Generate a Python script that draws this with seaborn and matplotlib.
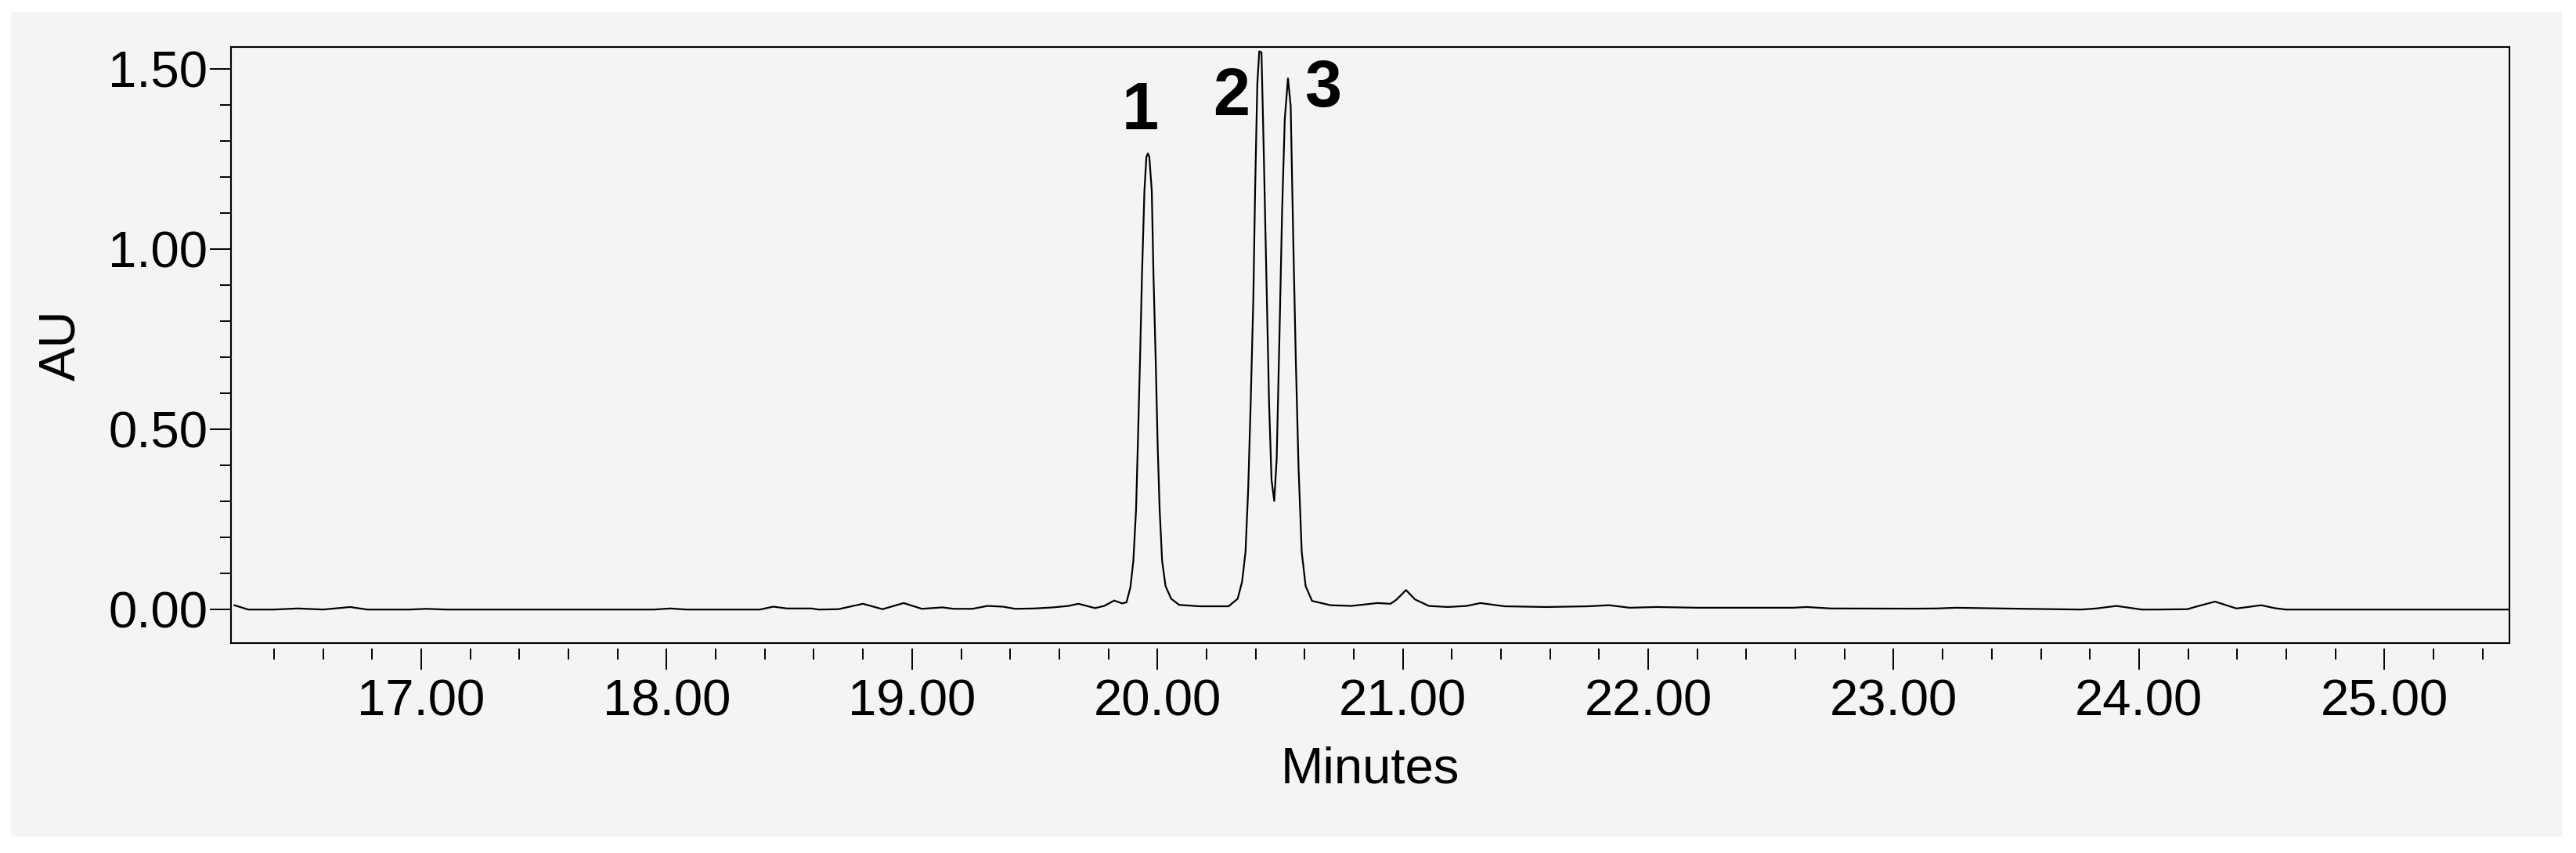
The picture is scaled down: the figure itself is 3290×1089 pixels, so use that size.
import numpy as np
import pandas as pd
import seaborn as sns
import matplotlib.pyplot as plt
from matplotlib.ticker import MultipleLocator, FormatStrFormatter
from matplotlib.patches import Rectangle

# retention time (min) and absorbance (AU)
minutes = [16.238, 16.295, 16.40, 16.497, 16.60, 16.71, 16.78, 16.95, 17.022, 17.10,
           17.50, 17.95, 18.014, 18.08, 18.38, 18.435, 18.49, 18.59, 18.62, 18.70,
           18.80, 18.88, 18.966, 19.04, 19.124, 19.17, 19.246, 19.307, 19.37, 19.42,
           19.50, 19.576, 19.637, 19.678, 19.746, 19.783, 19.824, 19.856, 19.874, 19.890,
           19.902, 19.913, 19.920, 19.929, 19.937, 19.947, 19.955, 19.961, 19.967, 19.977,
           19.984, 19.993, 20.001, 20.009, 20.019, 20.033, 20.056, 20.088, 20.172, 20.29,
           20.327, 20.345, 20.359, 20.370, 20.380, 20.391, 20.398, 20.407, 20.415, 20.424,
           20.433, 20.444, 20.455, 20.465, 20.476, 20.486, 20.497, 20.508, 20.519, 20.532,
           20.543, 20.553, 20.564, 20.575, 20.588, 20.604, 20.630, 20.705, 20.79, 20.896,
           20.95, 20.975, 21.013, 21.05, 21.106, 21.183, 21.26, 21.316, 21.415, 21.585,
           21.755, 21.84, 21.925, 22.034, 22.203, 22.59, 22.645, 22.744, 23.084, 23.177,
           23.254, 23.486, 23.764, 23.826, 23.908, 24.011, 24.073, 24.197, 24.243, 24.31,
           24.397, 24.444, 24.498, 24.552, 24.598, 25.51]
au = [0.012, 0.000, 0.000, 0.003, 0.000, 0.007, 0.000, 0.000, 0.002, 0.000,
      0.000, 0.000, 0.003, 0.000, 0.000, 0.008, 0.003, 0.003, 0.000, 0.001,
      0.016, 0.001, 0.018, 0.002, 0.006, 0.002, 0.002, 0.010, 0.008, 0.002,
      0.003, 0.006, 0.010, 0.016, 0.004, 0.010, 0.025, 0.017, 0.020, 0.062,
      0.136, 0.278, 0.454, 0.690, 0.925, 1.161, 1.255, 1.265, 1.255, 1.161,
      0.925, 0.690, 0.454, 0.278, 0.136, 0.065, 0.030, 0.013, 0.009, 0.009,
      0.030, 0.077, 0.160, 0.336, 0.572, 0.867, 1.161, 1.456, 1.548, 1.545,
      1.279, 0.925, 0.572, 0.360, 0.301, 0.419, 0.749, 1.102, 1.361, 1.473,
      1.397, 1.043, 0.690, 0.395, 0.160, 0.065, 0.024, 0.012, 0.010, 0.018,
      0.016, 0.028, 0.054, 0.028, 0.010, 0.007, 0.010, 0.018, 0.009, 0.007,
      0.009, 0.012, 0.005, 0.007, 0.005, 0.005, 0.007, 0.003, 0.0025, 0.003,
      0.005, 0.0025, 0.000, 0.003, 0.010, 0.000, 0.000, 0.001, 0.010, 0.022,
      0.003, 0.007, 0.012, 0.004, 0.000, 0.000]

peak_names = ['1', '2', '3']
peak_x = [19.93, 20.30, 20.675]
peak_y = [1.333, 1.372, 1.396]

df = pd.DataFrame({'Minutes': minutes, 'AU': au})

sns.set_theme(style='ticks')
plt.rcParams['font.family'] = ['Liberation Sans', 'DejaVu Sans']
plt.rcParams['text.color'] = 'black'
plt.rcParams['axes.labelcolor'] = 'black'
plt.rcParams['xtick.color'] = 'black'
plt.rcParams['ytick.color'] = 'black'

bg = '#f4f4f4'
fig = plt.figure(figsize=(32.9, 10.89), dpi=100, facecolor='white')
fig.patches.append(Rectangle((14 / 3290, 21 / 1089), (3290 - 31) / 3290, (1089 - 36) / 1089,
                             transform=fig.transFigure, facecolor=bg, edgecolor='none', zorder=-10))
ax = fig.add_axes([0.0897, 0.2461, 0.8845, 0.6988])

sns.lineplot(data=df, x='Minutes', y='AU', color='black', linewidth=1.6, ax=ax)

for name, px, py in zip(peak_names, peak_x, peak_y):
    ax.text(px, py, name, ha='center', va='baseline', fontsize=61, fontweight='bold', color='black')

ax.set_xlim(16.225, 25.51)
ax.set_ylim(-0.093, 1.56)

ax.xaxis.set_major_locator(MultipleLocator(1))
ax.xaxis.set_minor_locator(MultipleLocator(0.2))
ax.yaxis.set_major_locator(MultipleLocator(0.5))
ax.yaxis.set_minor_locator(MultipleLocator(0.1))
ax.xaxis.set_major_formatter(FormatStrFormatter('%.2f'))
ax.yaxis.set_major_formatter(FormatStrFormatter('%.2f'))

# box drawn by the axes patch, ticks hang a little below the frame
ax.patch.set_facecolor(bg)
ax.patch.set_edgecolor('black')
ax.patch.set_linewidth(1.5)
for s in ax.spines.values():
    s.set_visible(False)
ax.spines['bottom'].set_position(('outward', 5))

ax.tick_params(which='both', direction='out', width=1.4, color='black', labelcolor='black')
ax.tick_params(which='major', length=19.5)
ax.tick_params(which='minor', length=10)
ax.tick_params(axis='x', which='major', labelsize=47, pad=8)
ax.tick_params(axis='y', which='major', labelsize=47, pad=2)

ax.set_xlabel('Minutes', fontsize=47, color='black')
ax.set_ylabel('AU', fontsize=47, color='black')
ax.xaxis.set_label_coords(0.5, -0.173)
ax.yaxis.set_label_coords(-0.064, 0.5)

fig.savefig('out.png', dpi=100, facecolor='white')
